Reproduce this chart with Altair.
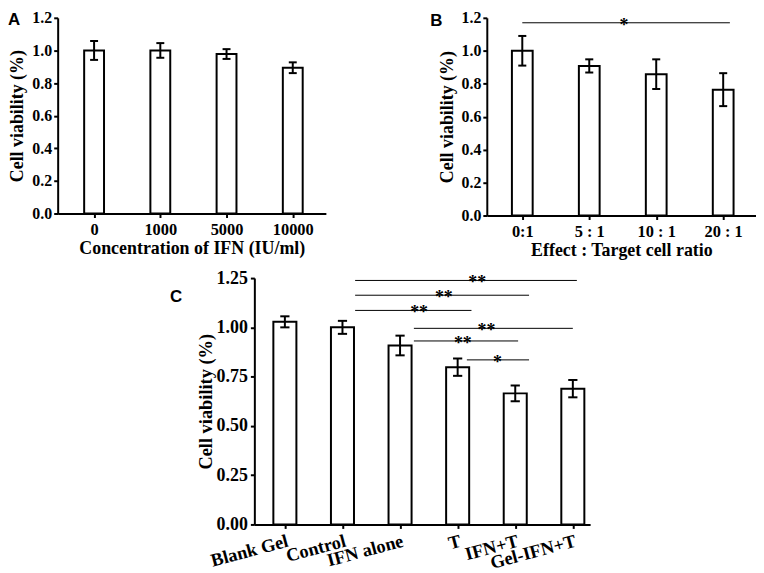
import altair as alt
import pandas as pd

# ---------------- data ----------------
a_labels = ["0", "1000", "5000", "10000"]
a_values = [1.0, 1.0, 0.978, 0.894]
a_errors = [0.058, 0.045, 0.03, 0.033]

b_labels = ["0:1", "5 : 1", "10 : 1", "20 : 1"]
b_values = [1.0, 0.908, 0.858, 0.764]
b_errors = [0.09, 0.04, 0.09, 0.10]

c_labels = ["Blank Gel", "Control", "IFN alone", "T", "IFN+T", "Gel-IFN+T"]
c_values = [1.028, 1.0, 0.908, 0.798, 0.665, 0.689]
c_errors = [0.028, 0.033, 0.05, 0.044, 0.04, 0.044]

b_sig_start = [0.0]
b_sig_end = [3.1]
b_sig_level = [1.17]
b_sig_text = ["*"]
b_sig_textx = [1.52]

c_sig_start = [1.22, 1.22, 1.22, 2.24, 2.24, 3.16]
c_sig_end = [5.07, 4.24, 3.24, 5.0, 4.05, 4.24]
c_sig_level = [1.238, 1.163, 1.086, 0.995, 0.931, 0.835]
c_sig_text = ["**", "**", "**", "**", "**", "*"]
c_sig_textx = [3.34, 2.76, 2.33, 3.5, 3.09, 3.69]

SERIF = "Liberation Serif"
SANS = "Liberation Sans"


def panel(labels, values, errors, xdom, ydom, yticks, yfmt, width, height,
          bar_half, cap_half, letter, letter_dx, letter_dy, xtitle,
          label_angle=0, sig=None, y_title_pad=5, ylab=16, xlab=16.5,
          tsize=18, y_label_pad=2):
    n = len(labels)
    df = pd.DataFrame({"idx": list(range(n)), "val": values, "err": errors})
    names = "[" + ",".join("'%s'" % s for s in labels) + "]"
    xaxis = alt.Axis(values=list(range(n)), labelExpr=names + "[datum.value]",
                     title=xtitle, labelAngle=label_angle,
                     labelAlign="right" if label_angle else "center",
                     labelBaseline="top", labelPadding=4 if not label_angle else 3,
                     titlePadding=2, labelOverlap=False, labelBound=False,
                     labelFontSize=xlab, titleFontSize=tsize, labelFlush=False)
    xs = alt.Scale(domain=xdom, nice=False, zero=False)
    ys = alt.Scale(domain=ydom, nice=False, zero=True)
    yaxis = alt.Axis(values=yticks, format=yfmt, title="Cell viability (%)",
                     titlePadding=y_title_pad, labelOverlap=False,
                     labelFontSize=ylab, titleFontSize=tsize,
                     labelPadding=y_label_pad, labelFlush=False, labelBound=False)

    def X(f):
        return alt.X(f, scale=xs, axis=xaxis)

    def Y(f):
        return alt.Y(f, scale=ys, axis=yaxis)

    base = alt.Chart(df).transform_calculate(
        x0="datum.idx - %f" % bar_half,
        x1="datum.idx + %f" % bar_half,
        c0="datum.idx - %f" % cap_half,
        c1="datum.idx + %f" % cap_half,
        lo="datum.val - datum.err",
        hi="datum.val + datum.err",
        zero="0",
    )
    bars = base.mark_rect(fill="white", stroke="black", strokeWidth=2).encode(
        x=X("x0:Q"), x2="x1:Q", y=Y("val:Q"), y2="zero:Q")
    vert = base.mark_rule(color="black", strokeWidth=2).encode(
        x=X("idx:Q"), y=Y("lo:Q"), y2="hi:Q")
    caps = base.transform_fold(["lo", "hi"], as_=["k", "v"]).mark_rule(
        color="black", strokeWidth=2).encode(x=X("c0:Q"), x2="c1:Q", y=Y("v:Q"))
    layers = [bars, vert, caps]
    if sig is not None:
        s0, s1, lev, txt, tx = sig
        sdf = pd.DataFrame({"s0": s0, "s1": s1, "lev": lev, "txt": txt, "tx": tx})
        lines = alt.Chart(sdf).mark_rule(color="black", strokeWidth=1).encode(
            x=X("s0:Q"), x2="s1:Q", y=Y("lev:Q"))
        stars = alt.Chart(sdf).mark_text(font=SERIF, fontSize=18, fontWeight="bold",
                                         baseline="alphabetic", dy=8,
                                         color="black").encode(
            x=X("tx:Q"), y=Y("lev:Q"), text="txt:N")
        layers += [lines, stars]
    return alt.layer(*layers).properties(
        width=width, height=height,
        title=alt.TitleParams(letter, anchor="start", frame="group", font=SANS,
                              fontSize=17, fontWeight="bold", color="black",
                              dx=letter_dx, dy=letter_dy, baseline="top", offset=0),
    )


pa = panel(a_labels, a_values, a_errors, [-0.55, 3.5], [0, 1.2],
           [0, 0.2, 0.4, 0.6, 0.8, 1.0, 1.2], ".1f", 270, 197, 0.15, 0.06,
           "A", -50, 19, "Concentration of IFN (IU/ml)")
pb = panel(b_labels, b_values, b_errors, [-0.53, 3.49], [0, 1.2],
           [0, 0.2, 0.4, 0.6, 0.8, 1.0, 1.2], ".1f", 271, 199, 0.155, 0.06,
           "B", -57, 20, "Effect : Target cell ratio",
           sig=(b_sig_start, b_sig_end, b_sig_level, b_sig_text, b_sig_textx))
pc = panel(c_labels, c_values, c_errors, [-0.53, 5.3], [0, 1.25],
           [0, 0.25, 0.5, 0.75, 1.0, 1.25], ".2f", 338, 248, 0.2, 0.08,
           "C", -85, 37, None, label_angle=-15,
           sig=(c_sig_start, c_sig_end, c_sig_level, c_sig_text, c_sig_textx),
           y_title_pad=1, ylab=18, xlab=18.5, tsize=18.5, y_label_pad=3)

spacer = alt.Chart(pd.DataFrame({"a": [0]})).mark_point(opacity=0).properties(
    width=113, height=1)

top = alt.hconcat(pa, pb, spacing=105)
bottom = alt.hconcat(spacer, pc, spacing=0)
chart = alt.vconcat(top, bottom, spacing=9).properties(
    padding=0
).configure_view(stroke=None).configure_axis(
    grid=False, domainColor="black", domainWidth=2, tickColor="black",
    tickWidth=2, tickSize=4, labelFont=SERIF, labelFontWeight="bold",
    labelColor="black", titleFont=SERIF,
    titleFontWeight="bold", titleColor="black",
)

chart.save("out.html", embed_options={"renderer": "svg", "actions": False})
